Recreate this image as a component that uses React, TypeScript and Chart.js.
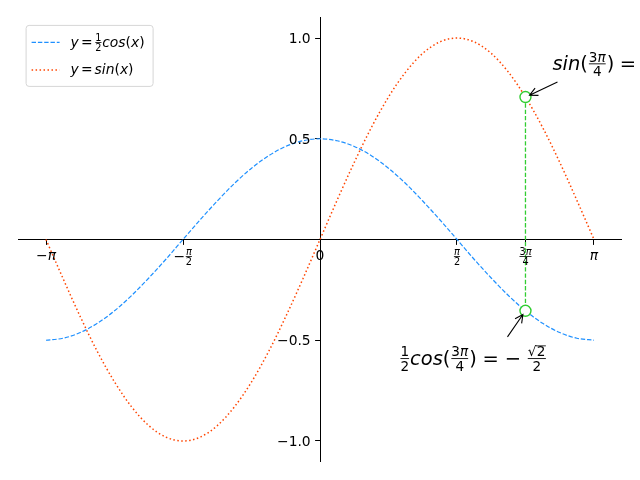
import { useEffect, useRef } from 'react';
import { Chart, registerables } from 'chart.js';

Chart.register(...registerables);

// ---------- values ----------
const xValues = [
  -3.142, -2.945, -2.749, -2.553, -2.356, -2.16, -1.963, -1.767, -1.571,
  -1.374, -1.178, -0.982, -0.785, -0.589, -0.393, -0.196, 0,
  0.196, 0.393, 0.589, 0.785, 0.982, 1.178, 1.374, 1.571,
  1.767, 1.963, 2.16, 2.356, 2.553, 2.749, 2.945, 3.142,
];
const halfCosValues = [
  -0.5, -0.49, -0.462, -0.416, -0.354, -0.278, -0.191, -0.098, 0,
  0.098, 0.191, 0.278, 0.354, 0.416, 0.462, 0.49, 0.5,
  0.49, 0.462, 0.416, 0.354, 0.278, 0.191, 0.098, 0,
  -0.098, -0.191, -0.278, -0.354, -0.416, -0.462, -0.49, -0.5,
];
const sinValues = [
  0, -0.195, -0.383, -0.556, -0.707, -0.831, -0.924, -0.981, -1,
  -0.981, -0.924, -0.831, -0.707, -0.556, -0.383, -0.195, 0,
  0.195, 0.383, 0.556, 0.707, 0.831, 0.924, 0.981, 1,
  0.981, 0.924, 0.831, 0.707, 0.556, 0.383, 0.195, 0,
];
const markerX = [2.356, 2.356];
const markerY = [0.707, -0.354];
const xTickValues = [-3.1416, -1.5708, 0, 1.5708, 2.3562, 3.1416];
const yTickValues = [-1, -0.5, 0.5, 1];
const yTickLabels = ['−1.0', '−0.5', '0.5', '1.0'];
const xRange = [-3.456, 3.456];
const yRange = [-1.1, 1.1];

const COS_COLOR = '#1E90FF';
const SIN_COLOR = '#FF4500';
const MARK_COLOR = '#32CD32';
const FAMILY = '"DejaVu Sans"';
const COS_DASH = [4.4, 1.9];
const SIN_DASH = [1.5, 2.475];

// ---------- tiny math-text renderer ----------
type MNode =
  | { k: 't'; s: string; it?: boolean }
  | { k: 'f'; n: MNode[]; d: MNode[] }
  | { k: 'r'; c: MNode[] }
  | { k: 's'; em: number };

const up = (s: string): MNode => ({ k: 't', s });
const it = (s: string): MNode => ({ k: 't', s, it: true });
const frac = (n: MNode[], d: MNode[]): MNode => ({ k: 'f', n, d });
const sqrt = (c: MNode[]): MNode => ({ k: 'r', c });
const sp = (em: number): MNode => ({ k: 's', em });

const xTickLabels: MNode[][] = [
  [up('−'), it('π')],
  [up('−'), frac([it('π')], [up('2')])],
  [up('0')],
  [frac([it('π')], [up('2')])],
  [frac([up('3'), it('π')], [up('4')])],
  [it('π')],
];
const legendLabels: MNode[][] = [
  [it('y'), sp(0.15), up('='), sp(0.15), frac([up('1')], [up('2')]), it('cos'), up('('), it('x'), up(')')],
  [it('y'), sp(0.15), up('='), sp(0.15), it('sin'), up('('), it('x'), up(')')],
];
const sinNote: MNode[] = [
  it('sin'), up('('), frac([up('3'), it('π')], [up('4')]), up(')'), sp(0.28), up('='), sp(0.28),
  frac([sqrt([up('2')])], [up('2')]),
];
const cosNote: MNode[] = [
  frac([up('1')], [up('2')]), it('cos'), up('('), frac([up('3'), it('π')], [up('4')]), up(')'),
  sp(0.3), up('='), sp(0.3), up('−'), sp(0.3), frac([sqrt([up('2')])], [up('2')]),
];

const FRAC_AXIS = 0.32;
const SHRINK = 0.7;

function setFont(ctx: CanvasRenderingContext2D, size: number, ital?: boolean) {
  ctx.font = `${ital ? 'italic ' : ''}${size}px ${FAMILY}`;
}

function mWidth(ctx: CanvasRenderingContext2D, nodes: MNode[], size: number): number {
  let w = 0;
  for (const n of nodes) {
    if (n.k === 't') {
      setFont(ctx, size, n.it);
      w += ctx.measureText(n.s).width;
    } else if (n.k === 's') {
      w += n.em * size;
    } else if (n.k === 'f') {
      const s = size * SHRINK;
      w += Math.max(mWidth(ctx, n.n, s), mWidth(ctx, n.d, s)) + 0.1 * size;
    } else if (n.k === 'r') {
      setFont(ctx, size, false);
      w += ctx.measureText('√').width + mWidth(ctx, n.c, size) + 0.06 * size;
    }
  }
  return w;
}

function mDraw(ctx: CanvasRenderingContext2D, nodes: MNode[], x: number, y: number, size: number): number {
  for (const n of nodes) {
    if (n.k === 't') {
      setFont(ctx, size, n.it);
      ctx.fillText(n.s, x, y);
      x += ctx.measureText(n.s).width;
    } else if (n.k === 's') {
      x += n.em * size;
    } else if (n.k === 'f') {
      const s = size * SHRINK;
      const wn = mWidth(ctx, n.n, s);
      const wd = mWidth(ctx, n.d, s);
      const inner = Math.max(wn, wd);
      const pad = 0.05 * size;
      const bar = y - FRAC_AXIS * size;
      const t = Math.max(0.8, size * 0.045);
      mDraw(ctx, n.n, x + pad + (inner - wn) / 2, bar - 0.11 * size, s);
      mDraw(ctx, n.d, x + pad + (inner - wd) / 2, bar + 0.11 * size + 0.73 * s, s);
      ctx.fillRect(x + pad, bar - t / 2, inner, t);
      x += inner + 2 * pad;
    } else if (n.k === 'r') {
      setFont(ctx, size, false);
      const m = ctx.measureText('√');
      ctx.fillText('√', x, y);
      const top = y - m.actualBoundingBoxAscent;
      const cw = mWidth(ctx, n.c, size);
      const t = Math.max(0.8, size * 0.06);
      ctx.fillRect(x + m.width - 0.5, top, cw + 0.06 * size + 0.5, t);
      mDraw(ctx, n.c, x + m.width + 0.02 * size, y, size);
      x += m.width + cw + 0.06 * size;
    }
  }
  return x;
}

function drawArrow(ctx: CanvasRenderingContext2D, x0: number, y0: number, px: number, py: number, gap: number) {
  const dx = x0 - px;
  const dy = y0 - py;
  const len = Math.hypot(dx, dy);
  const ux = dx / len;
  const uy = dy / len;
  const tx = px + ux * gap;
  const ty = py + uy * gap;
  const hl = 8;
  const hw = 4;
  ctx.beginPath();
  ctx.moveTo(x0, y0);
  ctx.lineTo(tx, ty);
  ctx.moveTo(tx + ux * hl - uy * hw, ty + uy * hl + ux * hw);
  ctx.lineTo(tx, ty);
  ctx.lineTo(tx + ux * hl + uy * hw, ty + uy * hl - ux * hw);
  ctx.stroke();
}

const decorPlugin = {
  id: 'decor',
  afterDraw(chart: any) {
    const ctx: CanvasRenderingContext2D = chart.ctx;
    const xs = chart.scales.x;
    const ys = chart.scales.y;
    const TICK = 13.89;
    const NOTE = 19.44;
    ctx.save();
    ctx.fillStyle = '#000';
    ctx.strokeStyle = '#000';
    ctx.textAlign = 'left';
    ctx.textBaseline = 'alphabetic';

    // x tick labels
    const y0 = ys.getPixelForValue(0);
    xTickLabels.forEach((lab, i) => {
      const px = xs.getPixelForValue(xTickValues[i]);
      const w = mWidth(ctx, lab, TICK);
      const hasFrac = lab.some((n) => n.k === 'f');
      const base = hasFrac ? y0 + 17 + FRAC_AXIS * TICK : y0 + 20;
      mDraw(ctx, lab, px - w / 2, base, TICK);
    });

    // y tick labels (left of the centred spine)
    const x0 = xs.getPixelForValue(0);
    setFont(ctx, TICK, false);
    ctx.textAlign = 'right';
    ctx.textBaseline = 'middle';
    yTickValues.forEach((v, i) => {
      ctx.fillText(yTickLabels[i], x0 - 9.3, ys.getPixelForValue(v) + 1.3);
    });
    ctx.textAlign = 'left';
    ctx.textBaseline = 'alphabetic';

    // annotations
    const p1x = xs.getPixelForValue(markerX[0]);
    const p1y = ys.getPixelForValue(markerY[0]);
    const p2x = xs.getPixelForValue(markerX[1]);
    const p2y = ys.getPixelForValue(markerY[1]);
    ctx.lineWidth = 1.1;
    drawArrow(ctx, p1x + 32, p1y - 15, p1x, p1y, 4.5);
    drawArrow(ctx, p2x - 18, p2y + 26, p2x, p2y, 4.5);
    mDraw(ctx, sinNote, p1x + 27, p1y - 27, NOTE);
    mDraw(ctx, cosNote, p2x - 126, p2y + 54, NOTE);

    // legend
    const lx = chart.chartArea.left + 7;
    const ly = chart.chartArea.top + 7;
    const lw = 127;
    const lh = 61;
    ctx.beginPath();
    (ctx as any).roundRect(lx + 0.5, ly + 0.5, lw, lh, 3);
    ctx.fillStyle = 'rgba(255,255,255,0.8)';
    ctx.fill();
    ctx.strokeStyle = '#d6d6d6';
    ctx.lineWidth = 1;
    ctx.stroke();
    const rows = [ly + 17.5, ly + 45];
    const colors = [COS_COLOR, SIN_COLOR];
    const dashes = [COS_DASH, SIN_DASH];
    const widths = [1.2, 1.5];
    rows.forEach((ry, i) => {
      ctx.beginPath();
      ctx.strokeStyle = colors[i];
      ctx.lineWidth = widths[i];
      ctx.setLineDash(dashes[i]);
      ctx.moveTo(lx + 6, ry);
      ctx.lineTo(lx + 34, ry);
      ctx.stroke();
      ctx.setLineDash([]);
      ctx.fillStyle = '#000';
      mDraw(ctx, legendLabels[i], lx + 45, ry + 4.5, TICK);
    });
    ctx.restore();
  },
};

export default function App() {
  const ref = useRef<HTMLCanvasElement>(null);
  useEffect(() => {
    const canvas = ref.current;
    if (!canvas) return;
    const chart = new Chart(canvas, {
      type: 'line',
      data: {
        datasets: [
          {
            label: 'drop',
            data: markerX.map((x, i) => ({ x, y: markerY[i] })),
            borderColor: MARK_COLOR,
            borderWidth: 1.3,
            borderDash: COS_DASH,
            pointRadius: 5.5,
            pointBackgroundColor: '#ffffff',
            pointBorderColor: MARK_COLOR,
            pointBorderWidth: 1.4,
            tension: 0,
            order: 0,
          },
          {
            label: 'cos',
            data: xValues.map((x, i) => ({ x, y: halfCosValues[i] })),
            borderColor: COS_COLOR,
            borderWidth: 1.2,
            borderDash: COS_DASH,
            pointRadius: 0,
            cubicInterpolationMode: 'monotone',
            order: 1,
          },
          {
            label: 'sin',
            data: xValues.map((x, i) => ({ x, y: sinValues[i] })),
            borderColor: SIN_COLOR,
            borderWidth: 1.5,
            borderDash: SIN_DASH,
            pointRadius: 0,
            cubicInterpolationMode: 'monotone',
            order: 1,
          },
        ],
      },
      options: {
        responsive: false,
        animation: false,
        devicePixelRatio: 1,
        events: [],
        layout: { padding: { left: 18.6, right: 18.6, top: 17.9, bottom: 18.9 } },
        plugins: { legend: { display: false }, tooltip: { enabled: false } },
        scales: {
          x: {
            type: 'linear',
            min: xRange[0],
            max: xRange[1],
            position: { y: 0 } as any,
            afterBuildTicks: (axis: any) => {
              axis.ticks = xTickValues.map((v) => ({ value: v }));
            },
            ticks: { callback: () => '', autoSkip: false, maxRotation: 0 },
            grid: { drawOnChartArea: false, drawTicks: true, tickLength: 4.9, color: '#000', lineWidth: 1 },
            border: { color: '#000', width: 1 },
          },
          y: {
            type: 'linear',
            min: yRange[0],
            max: yRange[1],
            position: { x: 0 } as any,
            afterBuildTicks: (axis: any) => {
              axis.ticks = yTickValues.map((v) => ({ value: v }));
            },
            ticks: { callback: () => '', autoSkip: false, padding: 4.9 },
            grid: { drawOnChartArea: false, drawTicks: true, tickLength: 4.9, color: '#000', lineWidth: 1 },
            border: { color: '#000', width: 1 },
          },
        },
      },
      plugins: [decorPlugin],
    } as any);
    return () => chart.destroy();
  }, []);
  return (
    <div style={{ position: 'absolute', left: 0, top: 0, width: 640, height: 480, background: '#fff' }}>
      <canvas ref={ref} width={640} height={480} style={{ display: 'block', width: 640, height: 480 }} />
    </div>
  );
}
